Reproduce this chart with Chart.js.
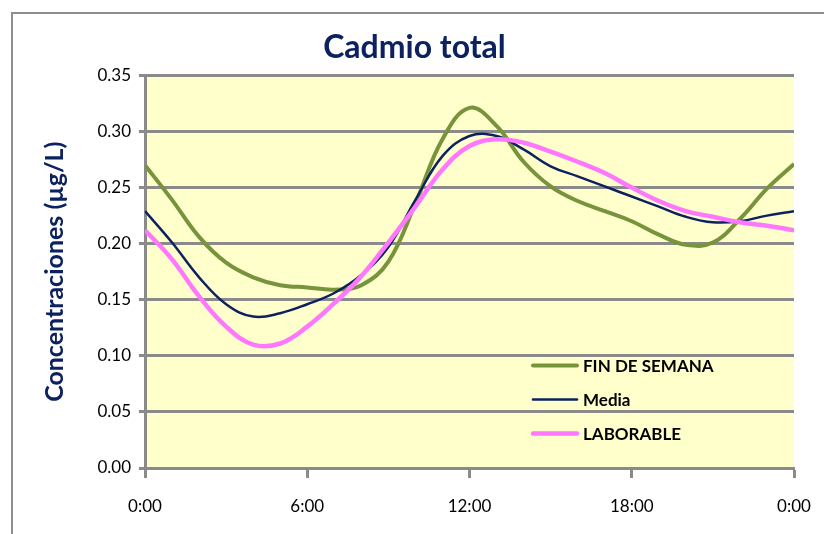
<!DOCTYPE html>
<html>
<head>
<meta charset="utf-8">
<script src="https://cdn.jsdelivr.net/npm/chart.js@4.4.1/dist/chart.umd.min.js"></script>
<style>
  html, body { margin: 0; padding: 0; background: #fff; overflow: hidden; }
  #wrap { position: relative; width: 824px; height: 534px; }
  #frame { position: absolute; left: 11px; top: 12px; width: 900px; height: 600px; border: 2px solid #8e8e8e; }
  canvas { position: absolute; left: 0; top: 0; }
</style>
</head>
<body>
<div id="wrap">
  <div id="frame"></div>
  <canvas id="cadmioChart" width="824" height="534"></canvas>
</div>
<script>
// Cadmio total - concentraciones horarias

const hours = [0, 1, 2, 3, 4, 5, 6, 7, 8, 9, 10, 11, 12, 13, 14, 15, 16, 17, 18, 19, 20, 21, 22, 23, 24];
const finDeSemana = [0.270, 0.239, 0.206, 0.183, 0.170, 0.163, 0.161, 0.159, 0.163, 0.184, 0.236, 0.293, 0.321, 0.305, 0.273, 0.251, 0.238, 0.229, 0.220, 0.208, 0.199, 0.201, 0.222, 0.249, 0.271];
const media = [0.229, 0.201, 0.170, 0.146, 0.135, 0.138, 0.146, 0.156, 0.172, 0.197, 0.239, 0.278, 0.296, 0.296, 0.284, 0.269, 0.260, 0.251, 0.242, 0.233, 0.224, 0.219, 0.220, 0.225, 0.229];
const laborable = [0.212, 0.186, 0.153, 0.126, 0.110, 0.111, 0.126, 0.147, 0.171, 0.201, 0.233, 0.266, 0.287, 0.293, 0.290, 0.282, 0.273, 0.263, 0.250, 0.238, 0.229, 0.224, 0.219, 0.216, 0.212];
const xTicks = [0, 6, 12, 18, 24];
const yTicks = [0, 0.05, 0.10, 0.15, 0.20, 0.25, 0.30, 0.35];

const gridGray = "#8a8a8a";

function points(values) {
    return hours.map((h, i) => ({ x: h, y: values[i] }));
}

// yellow plot background
const plotBackground = {
    id: "plotBackground",
    beforeDraw(chart) {
        const a = chart.chartArea;
        chart.ctx.save();
        chart.ctx.fillStyle = "#ffffcc";
        chart.ctx.fillRect(a.left, a.top, a.right - a.left, a.bottom - a.top);
        chart.ctx.restore();
    },
};

// legend inside the plot area, lower right
const innerLegend = {
    id: "innerLegend",
    afterDatasetsDraw(chart) {
        const ctx = chart.ctx;
        const a = chart.chartArea;
        const rowY = [a.top + 290, a.top + 324, a.top + 358];
        ctx.save();
        chart.data.datasets.forEach((ds, i) => {
            ctx.strokeStyle = ds.borderColor;
            ctx.lineWidth = ds.borderWidth;
            ctx.lineCap = "round";
            ctx.beginPath();
            ctx.moveTo(a.left + 388, rowY[i]);
            ctx.lineTo(a.left + 432, rowY[i]);
            ctx.stroke();
            ctx.fillStyle = "#000";
            ctx.font = "bold 17px Lato";
            ctx.textBaseline = "middle";
            ctx.fillText(ds.label, a.left + 438, rowY[i] + 1);
        });
        ctx.restore();
    },
};

new Chart(document.getElementById("cadmioChart"), {
    type: "line",
    data: {
        datasets: [
            {
                label: "FIN DE SEMANA",
                data: points(finDeSemana),
                borderColor: "#77933c",
                borderWidth: 4,
                order: 2,
            },
            {
                label: "Media",
                data: points(media),
                borderColor: "#0c2260",
                borderWidth: 2.5,
                order: 1,
            },
            {
                label: "LABORABLE",
                data: points(laborable),
                borderColor: "#ff77ff",
                borderWidth: 4.5,
                order: 0,
            },
        ],
    },
    options: {
        responsive: false,
        animation: false,
        layout: { padding: { left: 35, right: 30, top: 0, bottom: 0 } },
        elements: {
            point: { radius: 0 },
            line: { tension: 0.4 },
        },
        plugins: {
            legend: { display: false },
            tooltip: { enabled: false },
            title: {
                display: true,
                text: "Cadmio total",
                color: "#0c2260",
                font: { family: "Lato", size: 32, weight: "bold" },
                padding: { top: 28, bottom: 9 },
            },
        },
        scales: {
            x: {
                type: "linear",
                min: 0,
                max: 24,
                afterBuildTicks(axis) {
                    axis.ticks = xTicks.map((v) => ({ value: v }));
                },
                afterFit(axis) {
                    axis.height = 66;
                    axis.paddingLeft = 0;
                    axis.paddingRight = 0;
                },
                ticks: {
                    color: "#000",
                    font: { family: "Lato", size: 17 },
                    padding: 18,
                    maxRotation: 0,
                    callback: (v) => (v % 24) + ":00",
                },
                grid: {
                    drawOnChartArea: false,
                    drawTicks: true,
                    tickLength: 10,
                    tickColor: gridGray,
                    tickWidth: 3,
                },
                border: { color: gridGray, width: 3 },
            },
            y: {
                min: 0,
                max: 0.35,
                afterBuildTicks(axis) {
                    axis.ticks = yTicks.map((v) => ({ value: v }));
                },
                afterFit(axis) {
                    axis.width = 110;
                },
                ticks: {
                    color: "#000",
                    font: { family: "Lato", size: 17 },
                    padding: 8,
                    callback: (v) => v.toFixed(2),
                },
                grid: {
                    color: gridGray,
                    lineWidth: 3,
                    tickLength: 6,
                },
                border: { color: gridGray, width: 3 },
                title: {
                    display: true,
                    text: "Concentraciones (µg/L)",
                    color: "#0c2260",
                    font: { family: "Lato", size: 25, weight: "bold" },
                    padding: { top: 5, bottom: 0 },
                },
            },
        },
    },
    plugins: [plotBackground, innerLegend],
});
</script>
</body>
</html>
